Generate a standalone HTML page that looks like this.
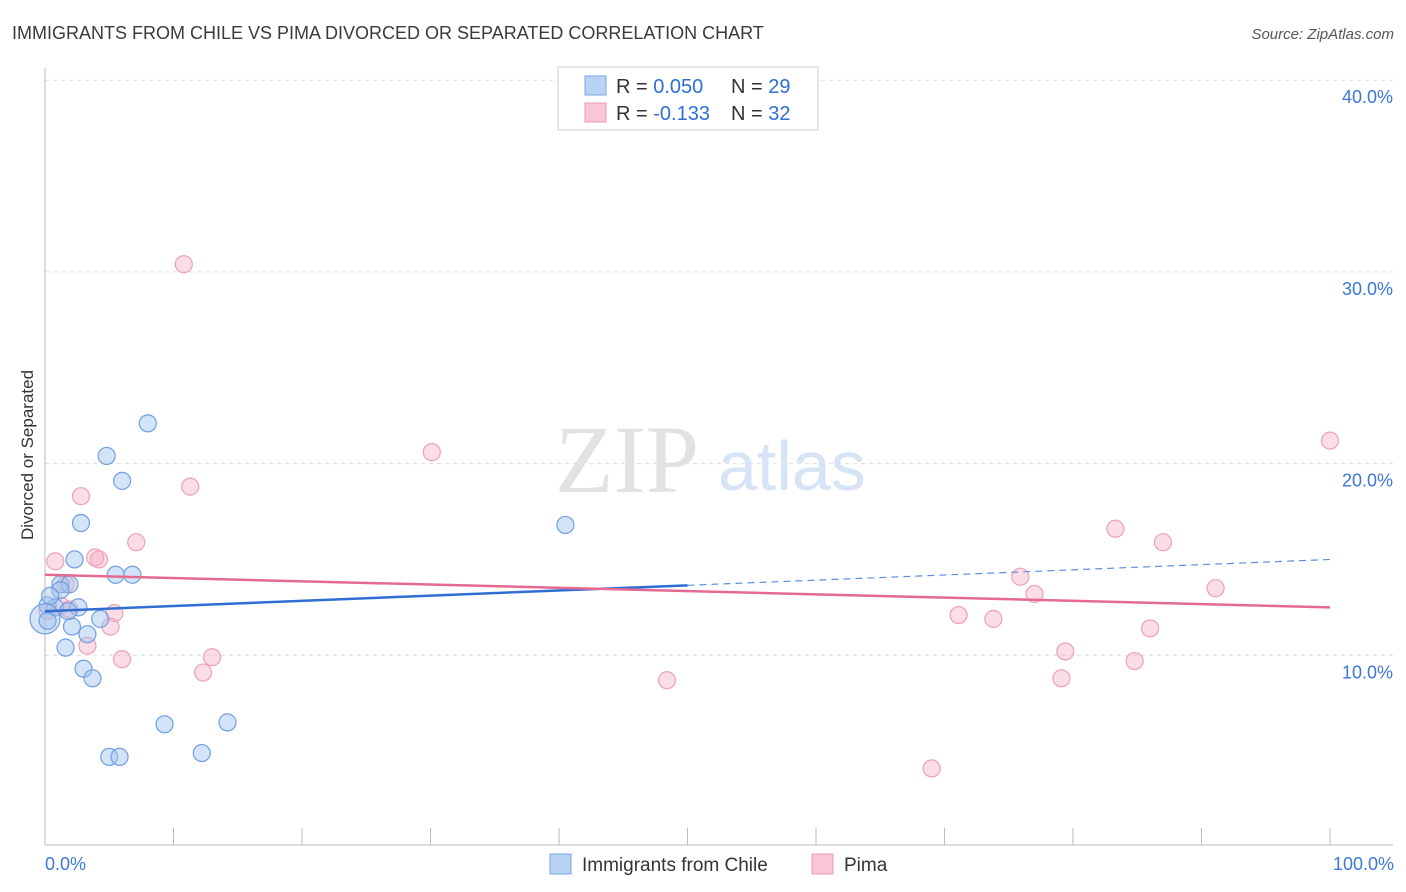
<!DOCTYPE html>
<html><head><meta charset="utf-8"><style>
body{margin:0;background:#fff;font-family:"Liberation Sans",sans-serif}
svg{display:block}
</style></head><body>
<svg id="c" width="1406" height="892">
<text x="12" y="39" font-size="18" fill="#3a3a3a">IMMIGRANTS FROM CHILE VS PIMA DIVORCED OR SEPARATED CORRELATION CHART</text>
<text x="1394" y="39" font-size="15" fill="#555" font-style="italic" text-anchor="end">Source: ZipAtlas.com</text>
<text transform="translate(33,455) rotate(-90)" font-size="17" fill="#333" text-anchor="middle">Divorced or Separated</text>
<g id="grid"></g>
<text x="555" y="492" font-size="96" fill="#e2e2e2" font-family="Liberation Serif">ZIP</text>
<text x="718" y="490" font-size="70" fill="#d6e4f5">atlas</text>
<g id="pts"></g>
<g id="lines"></g>
<g>
<rect x="558" y="67" width="260" height="63" fill="#fff" stroke="#ccc"/>
<rect x="585" y="76" width="21" height="19" fill="#b9d3f5" stroke="#7aa5e0"/>
<rect x="585" y="103" width="21" height="19" fill="#f9c6d5" stroke="#ec98b2"/>
<text x="616" y="93" font-size="20" fill="#333">R = <tspan fill="#2f6fd3">0.050</tspan><tspan x="731">N = </tspan><tspan fill="#2f6fd3">29</tspan></text>
<text x="616" y="120" font-size="20" fill="#333">R = <tspan fill="#2f6fd3">-0.133</tspan><tspan x="731">N = </tspan><tspan fill="#2f6fd3">32</tspan></text>
</g>
<g>
<rect x="550" y="854" width="21" height="20" fill="#b9d3f5" stroke="#7aa5e0"/>
<text x="582" y="871" font-size="19" fill="#333">Immigrants from Chile</text>
<rect x="812" y="854" width="21" height="20" fill="#f9c6d5" stroke="#ec98b2"/>
<text x="844" y="871" font-size="19" fill="#333">Pima</text>
</g>
<text x="45" y="870" font-size="18" fill="#3b78d8">0.0%</text>
<text x="1394" y="870" font-size="18" fill="#3b78d8" text-anchor="end">100.0%</text>
</svg>
<script>
const yTicks=[10,20,30,40];
const xTicks=[0,10,20,30,40,50,60,70,80,90,100];
const chileX=[8.0,4.8,6.0,2.8,2.3,5.5,6.8,40.5,1.2,1.9,0.2,0.8,2.6,4.3,2.1,3.3,1.6,3.0,3.7,9.3,14.2,5.0,5.8,12.2,0,1.2,0.2,1.8,0.4];
const chileY=[22.1,20.4,19.1,16.9,15.0,14.2,14.2,16.8,13.7,13.7,12.6,12.5,12.5,11.9,11.5,11.1,10.4,9.3,8.8,6.4,6.5,4.7,4.7,4.9,11.9,13.4,11.8,12.3,13.1];
const pimaX=[10.8,30.1,100,2.8,11.3,7.1,0.8,3.9,4.2,83.3,87.0,75.9,77.0,91.1,5.4,5.1,3.3,71.1,73.8,86.0,79.4,6.0,13.0,12.3,48.4,79.1,84.8,69.0,1.2,1.9,0.2,1.6];
const pimaY=[30.4,20.6,21.2,18.3,18.8,15.9,14.9,15.1,15.0,16.6,15.9,14.1,13.2,13.5,12.2,11.5,10.5,12.1,11.9,11.4,10.2,9.8,9.9,9.1,8.7,8.8,9.7,4.1,12.6,12.4,12.3,13.7];
const chileTrend=[12.3,15.0];
const pimaTrend=[14.2,12.5];
const NS='http://www.w3.org/2000/svg';
const sx=v=>45+v*12.85;
const sy=v=>847-v*19.17;
function mk(t,a,p){const e=document.createElementNS(NS,t);for(const k in a)e.setAttribute(k,a[k]);p.appendChild(e);return e;}
const grid=document.getElementById('grid');
yTicks.forEach(t=>{
const l=mk('line',{x1:45,x2:1393,y1:sy(t),y2:sy(t),stroke:'#ddd','stroke-dasharray':'4,4'},grid);


const tx=mk('text',{x:1393,y:sy(t)+23,'font-size':18,fill:'#3b78d8','text-anchor':'end'},grid);
tx.textContent=t.toFixed(1)+'%';


});
const ax=mk('line',{x1:45,x2:1393,y1:845,y2:845,stroke:'#bbb'},grid);


const ay=mk('line',{x1:45,x2:45,y1:68,y2:845,stroke:'#bbb'},grid);


xTicks.forEach(t=>{
const l=mk('line',{x1:sx(t),x2:sx(t),y1:828,y2:845,stroke:'#bbb'},grid);


});
const pts=document.getElementById('pts');
pimaX.forEach((x,i)=>{
const c=mk('circle',{cx:sx(x),cy:sy(pimaY[i]),r:8.5,fill:'rgba(245,170,195,0.4)',stroke:'#eda0b8','stroke-width':1.2},pts);


});
chileX.forEach((x,i)=>{
const c=mk('circle',{cx:sx(x),cy:sy(chileY[i]),r:(i==24?15:8.5),fill:'rgba(160,195,240,0.45)',stroke:'#6f9fe0','stroke-width':1.2},pts);


});
const lines=document.getElementById('lines');
const cy50=chileTrend[0]+(chileTrend[1]-chileTrend[0])*0.5;
const b1=mk('line',{x1:sx(0),y1:sy(chileTrend[0]),x2:sx(50),y2:sy(cy50),stroke:'#2f6fd3','stroke-width':2.5},lines);


const b2=mk('line',{x1:sx(50),y1:sy(cy50),x2:sx(100),y2:sy(chileTrend[1]),stroke:'#5a8fe0','stroke-width':1.2,'stroke-dasharray':'7,5'},lines);


const p1=mk('line',{x1:sx(0),y1:sy(pimaTrend[0]),x2:sx(100),y2:sy(pimaTrend[1]),stroke:'#e56a92','stroke-width':2.5},lines);


</script>
</body></html>
